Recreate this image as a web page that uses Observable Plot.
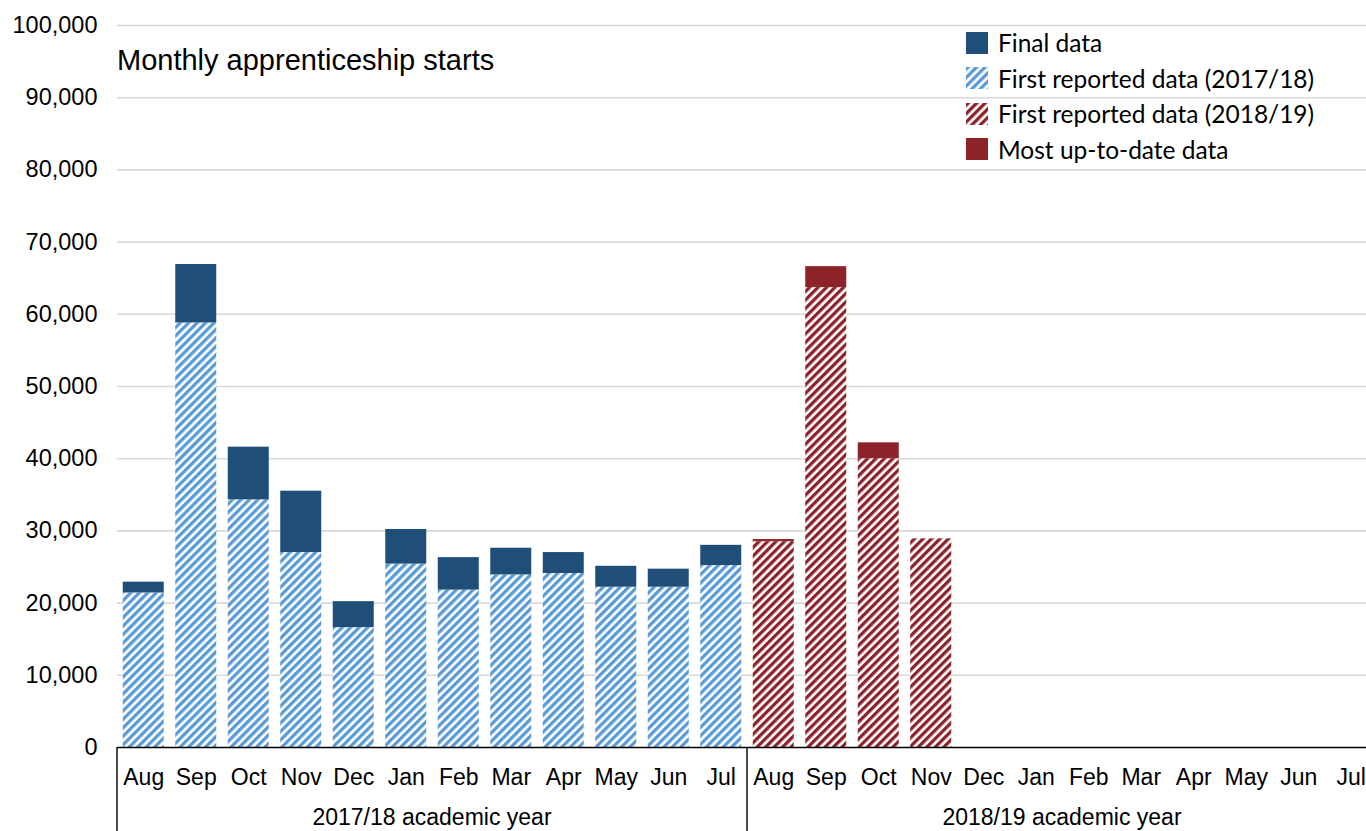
<!DOCTYPE html>
<html>
<head>
<meta charset="utf-8">
<script src="https://cdn.jsdelivr.net/npm/d3@7"></script>
<script src="https://cdn.jsdelivr.net/npm/@observablehq/plot@0.6"></script>
<style>
  html, body { margin: 0; padding: 0; background: #fff; overflow: hidden; }
  #wrap { position: relative; width: 1366px; height: 831px; overflow: hidden; font-family: "Liberation Sans", Arial, sans-serif; }
  #chart { position: absolute; left: 0; top: 0; }
  #chart svg { max-width: none !important; }
  #title { position: absolute; left: 117px; top: 44px; font-size: 29px; color: #000; white-space: nowrap; }
  #legend { position: absolute; left: 966px; top: 25px; font-family: Lato, "Noto Sans", sans-serif; font-size: 24.5px; color: #000; }
  .row { display: flex; align-items: center; height: 35.5px; white-space: nowrap; }
  .row svg { margin-right: 10px; flex: none; }
</style>
</head>
<body>
<div id="wrap">
  <div id="chart"></div>
  <div id="title">Monthly apprenticeship starts</div>
  <div id="legend"></div>
</div>
<script>
// ---- Data ----
const months = ["Aug", "Sep", "Oct", "Nov", "Dec", "Jan", "Feb", "Mar", "Apr", "May", "Jun", "Jul"];
const years = ["2017/18", "2018/19"];
const yearLabels = ["2017/18 academic year", "2018/19 academic year"];
const first1718 = [21400, 58800, 34300, 27000, 16600, 25400, 21800, 23900, 24100, 22200, 22200, 25200];
const final1718 = [22900, 66900, 41600, 35500, 20200, 30200, 26300, 27600, 27000, 25100, 24700, 28000];
const first1819 = [28500, 63700, 40000, 28900];
const latest1819 = [28800, 66600, 42200, 28900];
const yTicks = [0, 10000, 20000, 30000, 40000, 50000, 60000, 70000, 80000, 90000, 100000];
const legendLabels = ["Final data", "First reported data (2017/18)", "First reported data (2018/19)", "Most up-to-date data"];

// ---- Colours ----
const blueDark = "#1f4e79";
const blueLight = "#5b9bd5";
const redDark = "#8b2329";
const legendFills = [blueDark, "url(#hatchBlue)", "url(#hatchRed)", redDark];

// ---- Tables ----
const keys = years.flatMap(y => months.map(m => y + "|" + m));
const hatchBlueRows = months.map((m, i) => ({key: years[0] + "|" + m, y1: 0, y2: first1718[i]}));
const solidBlueRows = months.map((m, i) => ({key: years[0] + "|" + m, y1: first1718[i], y2: final1718[i]}));
const hatchRedRows = first1819.map((v, i) => ({key: years[1] + "|" + months[i], y1: 0, y2: v}));
const solidRedRows = latest1819.map((v, i) => ({key: years[1] + "|" + months[i], y1: first1819[i], y2: v}))
  .filter(d => d.y2 > d.y1);

function defsMark() {
  const svg = d3.create("svg:g");
  const defs = svg.append("defs");
  const mk = (id, color) => {
    const p = defs.append("pattern")
      .attr("id", id)
      .attr("patternUnits", "userSpaceOnUse")
      .attr("width", 6).attr("height", 6)
      .attr("patternTransform", "rotate(45)");
    p.append("rect").attr("width", 6).attr("height", 6).attr("fill", "#fff");
    p.append("rect").attr("width", 3.3).attr("height", 6).attr("fill", color);
  };
  mk("hatchBlue", blueLight);
  mk("hatchRed", redDark);
  return svg.node();
}

function groupMark(index, scales, values, dims) {
  const x = scales.x;
  const step = x(keys[1]) - x(keys[0]);
  const y0 = dims.height - dims.marginBottom;
  const g = d3.create("svg:g");
  const bounds = [x(keys[0]), x(keys[12]), x(keys[23]) + step];
  for (const bx of bounds) {
    g.append("line")
      .attr("x1", bx).attr("x2", bx)
      .attr("y1", y0).attr("y2", dims.height)
      .attr("stroke", "#000").attr("stroke-width", 1.4);
  }
  years.forEach((yr, k) => {
    const a = x(keys[k * 12]);
    const b = x(keys[k * 12 + 11]) + step;
    g.append("text")
      .attr("x", (a + b) / 2)
      .attr("y", dims.height - 6)
      .attr("text-anchor", "middle")
      .attr("font-size", 23)
      .attr("font-family", "'Liberation Sans', Arial, sans-serif")
      .attr("fill", "#000")
      .text(yearLabels[k]);
  });
  return g.node();
}

const barInset = 5.75;
const chart = Plot.plot({
  width: 1377,
  height: 831,
  marginLeft: 117,
  marginRight: 0,
  marginTop: 25,
  marginBottom: 84,
  style: {fontFamily: "'Liberation Sans', Arial, sans-serif", fontSize: "23px", color: "#000", background: "#fff", overflow: "visible", maxWidth: "none"},
  x: {type: "band", domain: keys, padding: 0, round: false},
  y: {domain: [0, 100000]},
  marks: [
    defsMark,
    Plot.gridY(yTicks.filter(t => t > 0), {stroke: "#d9d9d9", strokeOpacity: 1, strokeWidth: 1.6}),
    Plot.axisY(yTicks, {tickSize: 0, tickPadding: 20, tickFormat: d3.format(","), fontSize: 23.5, label: null}),
    Plot.axisX({tickSize: 0, tickPadding: 21, tickFormat: d => d.split("|")[1], fontSize: 23, label: null}),
    Plot.barY(hatchBlueRows, {x: "key", y1: "y1", y2: "y2", fill: "url(#hatchBlue)", insetLeft: barInset, insetRight: barInset}),
    Plot.barY(solidBlueRows, {x: "key", y1: "y1", y2: "y2", fill: blueDark, insetLeft: barInset, insetRight: barInset}),
    Plot.barY(hatchRedRows, {x: "key", y1: "y1", y2: "y2", fill: "url(#hatchRed)", insetLeft: barInset, insetRight: barInset}),
    Plot.barY(solidRedRows, {x: "key", y1: "y1", y2: "y2", fill: redDark, insetLeft: barInset, insetRight: barInset}),
    Plot.ruleY([0], {stroke: "#000", strokeWidth: 1.4}),
    groupMark
  ]
});
document.getElementById("chart").appendChild(chart);

// ---- Legend ----
const legend = d3.select("#legend");
legendLabels.forEach((label, i) => {
  const row = legend.append("div").attr("class", "row");
  const s = row.append("svg").attr("width", 22).attr("height", 22);
  s.append("rect").attr("width", 22).attr("height", 22).attr("fill", legendFills[i]);
  row.append("span").text(label);
});
</script>
</body>
</html>
